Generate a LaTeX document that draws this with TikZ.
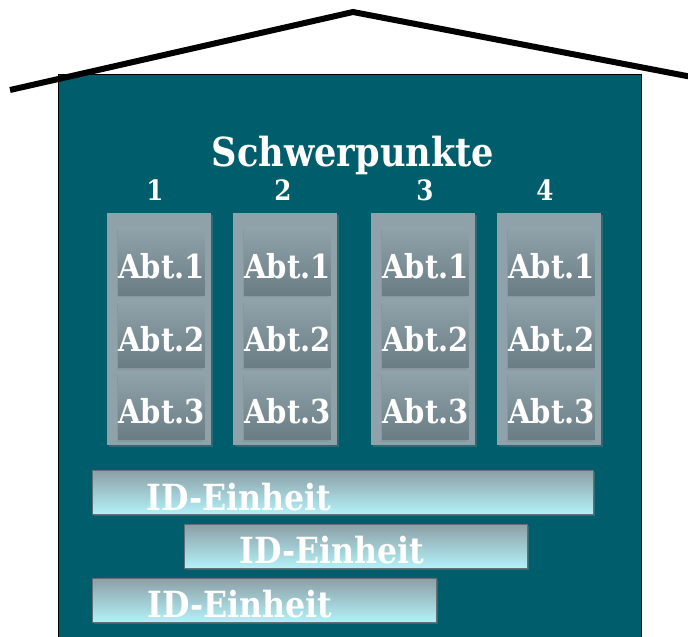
\documentclass[tikz,border=0pt]{standalone}
\usepackage{fontspec}
\setmainfont{DejaVu Serif}[FakeStretch=0.88]
\usetikzlibrary{shadows}
\definecolor{housefill}{HTML}{005E6C}
\definecolor{colgray}{HTML}{8FA2A9}
\definecolor{boxtop}{HTML}{90A3AA}
\definecolor{boxbottom}{HTML}{6A7D85}
\definecolor{bartop}{HTML}{8C9FA5}
\definecolor{barbottom}{HTML}{B3F1F8}

\begin{document}
\begin{tikzpicture}[x=1pt,y=-1pt,
  whitetext/.style={text=white,font=\bfseries\fontsize{36}{40}\selectfont},
  column/.style={rectangle,fill=colgray,minimum width=104pt,minimum height=232pt,
    drop shadow={opacity=0.35,shadow xshift=2pt,shadow yshift=-2pt}},
  abtbox/.style={rectangle,top color=boxtop,middle color=boxtop,bottom color=boxbottom,
    inner sep=0pt,minimum width=84pt,minimum height=67pt,text=white,
    text height=34pt,text depth=0pt,
    font=\bfseries\fontsize{33}{36}\selectfont,
    drop shadow={opacity=0.3,shadow xshift=-1.5pt,shadow yshift=-2pt}},
  idbar/.style={rectangle,top color=bartop,bottom color=barbottom,inner sep=0pt,
    minimum height=44pt,draw=bartop!70!black,line width=0.4pt,
    drop shadow={opacity=0.4,shadow xshift=2pt,shadow yshift=-2pt}}
]
  \useasboundingbox (0,0) rectangle (688,637);
  % house
  \draw[fill=housefill,line width=0.8pt] (58,74) rectangle (641,645);
  % roof
  \draw[line width=6pt,line join=miter] (10,90) -- (353,12) -- (692,77);
  % title
  \node[whitetext,font=\bfseries\fontsize{40}{44}\selectfont] (title) at (353,155) {Schwerpunkte};
  \foreach \n/\x in {1/155,2/283,3/425,4/545} {%
    \node[whitetext,font=\bfseries\fontsize{28}{32}\selectfont] (num\n) at (\x,190) {\n};
  }
  % columns
  \foreach \n/\x in {1/158.5,2/284.5,3/422.5,4/548.5} {%
    \node[column] (col\n) at (\x,329) {};
    \foreach \k/\y in {1/261.5,2/334,3/406} {%
      \node[abtbox] (abt\n\k) at (\x+3,\y) {Abt.\k};
    }
  }
  % ID-Einheiten
  \node[idbar,minimum width=501pt] (bar1) at (342.5,492) {};
  \node[whitetext] (id1) at (239,497) {ID-Einheit};
  \node[idbar,minimum width=343pt] (bar2) at (355.5,546) {};
  \node[whitetext] (id2) at (332,550) {ID-Einheit};
  \node[idbar,minimum width=344pt] (bar3) at (264,600) {};
  \node[whitetext] (id3) at (240,604) {ID-Einheit};
\end{tikzpicture}
\end{document}
